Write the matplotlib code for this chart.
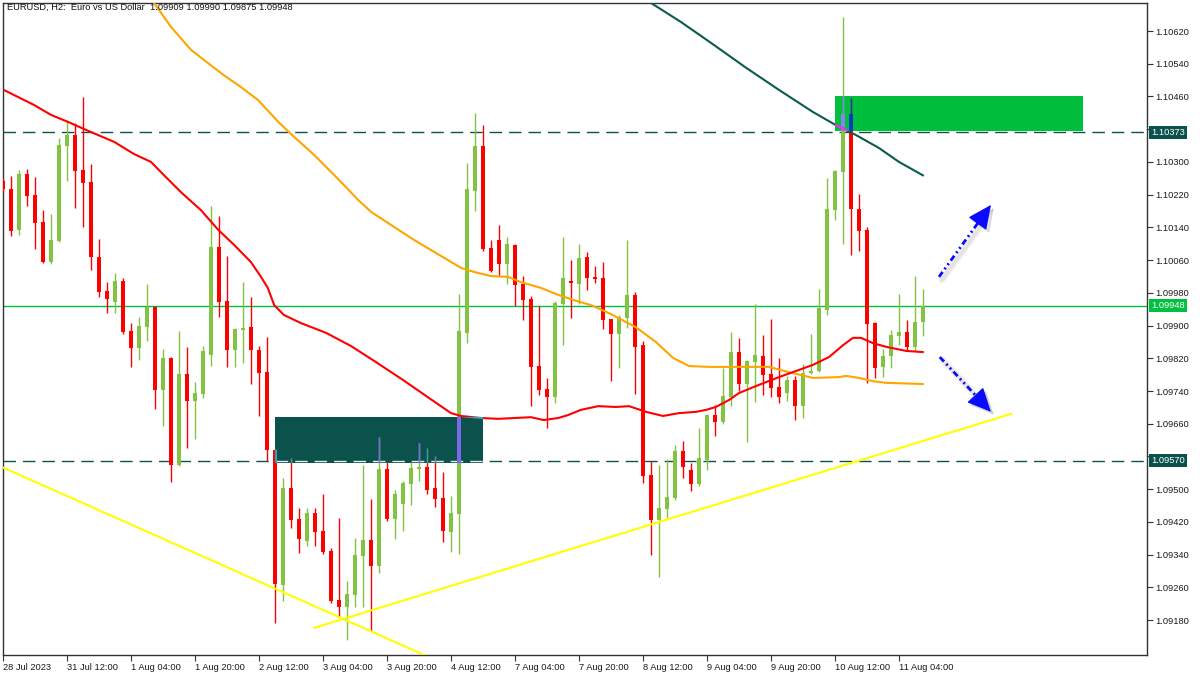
import numpy as np
import matplotlib
matplotlib.use("Agg")
import matplotlib.pyplot as plt
from matplotlib.patches import Rectangle
import matplotlib.transforms as mtransforms

plt.rcParams['font.family'] = ['Liberation Sans', 'DejaVu Sans']

# ---------------- data (EURUSD H2) ----------------
open_ = [1.10253, 1.10234, 1.10134, 1.10270, 1.10219, 1.10153, 1.10055, 1.10107, 1.10339, 1.10366,
         1.10280, 1.10251, 1.10068, 1.09984, 1.09958, 1.10009, 1.09887, 1.09845, 1.09896, 1.09945,
         1.09742, 1.09821, 1.09559, 1.09782, 1.09716, 1.09733, 1.09828, 1.10092, 1.09960, 1.09840,
         1.09889, 1.09896, 1.09840, 1.09786, 1.09596, 1.09266, 1.09503, 1.09427, 1.09373, 1.09442,
         1.09398, 1.09349, 1.09229, 1.09212, 1.09241, 1.09337, 1.09376, 1.09312, 1.09549, 1.09427,
         1.09464, 1.09513, 1.09549, 1.09554, 1.09503, 1.09478, 1.09395, 1.09439, 1.09882, 1.10229,
         1.10339, 1.10090, 1.10109, 1.10050, 1.10097, 1.10002, 1.09965, 1.09801, 1.09745, 1.09725,
         1.09953, 1.10009, 1.10002, 1.10068, 1.10019, 1.10016, 1.09916, 1.09879, 1.09918, 1.09975,
         1.09852, 1.09535, 1.09425, 1.09452, 1.09478, 1.09593, 1.09547, 1.09513, 1.09571, 1.09681,
         1.09664, 1.09725, 1.09835, 1.09757, 1.09811, 1.09826, 1.09782, 1.09750, 1.09735, 1.09767,
         1.09703, 1.09784, 1.09789, 1.09938, 1.10182, 1.10275, 1.10417, 1.10185, 1.10134, 1.09906,
         1.09799, 1.09826, 1.09874, 1.09884, 1.09848, 1.09909]
high_ = [1.10261, 1.10266, 1.10280, 1.10283, 1.10263, 1.10182, 1.10173, 1.10358, 1.10402, 1.10395,
         1.10459, 1.10295, 1.10112, 1.10006, 1.10028, 1.10016, 1.09906, 1.09921, 1.10002, 1.09947,
         1.09843, 1.09823, 1.09887, 1.09848, 1.09762, 1.09850, 1.10192, 1.10168, 1.10070, 1.09894,
         1.10006, 1.09970, 1.09850, 1.09872, 1.09598, 1.09527, 1.09576, 1.09454, 1.09454, 1.09454,
         1.09488, 1.09356, 1.09430, 1.09276, 1.09381, 1.09559, 1.09476, 1.09628, 1.09566, 1.09498,
         1.09520, 1.09566, 1.09613, 1.09601, 1.09581, 1.09542, 1.09483, 1.09977, 1.10297, 1.10420,
         1.10390, 1.10109, 1.10146, 1.10116, 1.10099, 1.10021, 1.09972, 1.09948, 1.09772, 1.09960,
         1.10116, 1.10060, 1.10099, 1.10080, 1.10046, 1.10055, 1.09916, 1.09926, 1.10109, 1.09982,
         1.09862, 1.09569, 1.09559, 1.09574, 1.09608, 1.09618, 1.09564, 1.09650, 1.09684, 1.09706,
         1.09796, 1.09884, 1.09870, 1.09816, 1.09953, 1.09877, 1.09916, 1.09821, 1.09777, 1.09777,
         1.09806, 1.09879, 1.09989, 1.10261, 1.10280, 1.10654, 1.10456, 1.10222, 1.10141, 1.09909,
         1.09843, 1.09889, 1.09977, 1.09914, 1.10021, 1.09990]
low_ = [1.10226, 1.10119, 1.10121, 1.10192, 1.10087, 1.10053, 1.10050, 1.10104, 1.10253, 1.10187,
        1.10141, 1.10036, 1.09970, 1.09931, 1.09931, 1.09879, 1.09799, 1.09816, 1.09862, 1.09696,
        1.09654, 1.09518, 1.09557, 1.09601, 1.09623, 1.09723, 1.09801, 1.09921, 1.09799, 1.09799,
        1.09808, 1.09757, 1.09679, 1.09569, 1.09173, 1.09227, 1.09405, 1.09344, 1.09361, 1.09361,
        1.09342, 1.09222, 1.09188, 1.09131, 1.09212, 1.09212, 1.09153, 1.09295, 1.09422, 1.09378,
        1.09398, 1.09461, 1.09520, 1.09488, 1.09456, 1.09371, 1.09346, 1.09342, 1.09857, 1.10180,
        1.10082, 1.10031, 1.10021, 1.10002, 1.09948, 1.09914, 1.09703, 1.09730, 1.09650, 1.09711,
        1.09852, 1.09918, 1.09953, 1.09987, 1.10004, 1.09892, 1.09764, 1.09796, 1.09894, 1.09733,
        1.09515, 1.09339, 1.09285, 1.09430, 1.09474, 1.09527, 1.09496, 1.09508, 1.09547, 1.09630,
        1.09659, 1.09703, 1.09740, 1.09615, 1.09713, 1.09730, 1.09725, 1.09711, 1.09716, 1.09669,
        1.09674, 1.09782, 1.09786, 1.09926, 1.10158, 1.10099, 1.10072, 1.10082, 1.09760, 1.09772,
        1.09774, 1.09796, 1.09852, 1.09838, 1.09838, 1.09875]
close_ = [1.10234, 1.10131, 1.10270, 1.10217, 1.10151, 1.10055, 1.10109, 1.10341, 1.10366, 1.10278,
          1.10248, 1.10068, 1.09982, 1.09965, 1.10009, 1.09884, 1.09845, 1.09899, 1.09945, 1.09742,
          1.09821, 1.09559, 1.09782, 1.09716, 1.09735, 1.09838, 1.10092, 1.09958, 1.09840, 1.09892,
          1.09894, 1.09840, 1.09784, 1.09596, 1.09268, 1.09503, 1.09425, 1.09378, 1.09442, 1.09395,
          1.09346, 1.09227, 1.09212, 1.09244, 1.09339, 1.09376, 1.09312, 1.09549, 1.09427, 1.09488,
          1.09515, 1.09552, 1.09554, 1.09498, 1.09476, 1.09398, 1.09442, 1.09887, 1.10234, 1.10339,
          1.10087, 1.10033, 1.10050, 1.10099, 1.09999, 1.09962, 1.09799, 1.09742, 1.09725, 1.09955,
          1.10016, 1.10004, 1.10065, 1.10016, 1.10014, 1.09914, 1.09879, 1.09921, 1.09975, 1.09848,
          1.09532, 1.09425, 1.09454, 1.09481, 1.09593, 1.09554, 1.09513, 1.09576, 1.09681, 1.09664,
          1.09728, 1.09835, 1.09757, 1.09813, 1.09828, 1.09779, 1.09747, 1.09725, 1.09767, 1.09703,
          1.09784, 1.09789, 1.09943, 1.10185, 1.10278, 1.10417, 1.10185, 1.10131, 1.09904, 1.09796,
          1.09826, 1.09877, 1.09884, 1.09848, 1.09909, 1.09948]

# moving averages (bar index, price)
ma_red_x = [0.1, 3.9, 6, 8.1, 11, 13.9, 16.4, 18.5, 20.1, 22.25, 24.75, 26.9, 28.9, 31, 32.25, 33.1,
            33.9, 35.1, 37.25, 40.4, 43.5, 46.6, 50, 53.1, 56, 57.25, 59.75, 61.9, 66, 67.6, 69.4,
            70.6, 72.25, 74.4, 76.6, 78.25, 80.4, 82.5, 84.5, 86.6, 87.9, 89.1, 90.75, 92, 94.1, 97,
            101.25, 103.25, 105, 106.25, 107.25, 108.75, 110.4, 112.9, 115.1]
ma_red_y = [1.10476, 1.10439, 1.10415, 1.10398, 1.10373, 1.10349, 1.10319, 1.10300, 1.10268, 1.10226,
            1.10182, 1.10134, 1.10097, 1.10055, 1.10019, 1.09992, 1.09950, 1.09926, 1.09906, 1.09882,
            1.09850, 1.09811, 1.09767, 1.09725, 1.09686, 1.09679, 1.09674, 1.09672, 1.09676, 1.09669,
            1.09674, 1.09681, 1.09694, 1.09703, 1.09701, 1.09703, 1.09689, 1.09679, 1.09686, 1.09689,
            1.09694, 1.09701, 1.09718, 1.09735, 1.09752, 1.09774, 1.09804, 1.09823, 1.09852, 1.09870,
            1.09870, 1.09857, 1.09848, 1.09838, 1.09835]
ma_orange_x = [18.5, 18.9, 21, 23.5, 25.6, 27.6, 29.75, 31.9, 34.4, 36.4, 38.9, 42.25, 44.4, 46, 48.5,
               51.4, 53.9, 57.25, 58.9, 61, 63.1, 64.75, 67.25, 69.4, 71.4, 73.5, 76, 79.1, 81.6,
               83.75, 85.75, 88.25, 95.75, 98.25, 101.25, 104.5, 105.4, 107, 108.75, 110.4, 115.1]
ma_orange_y = [1.10698, 1.10688, 1.10630, 1.10574, 1.10542, 1.10512, 1.10483, 1.10451, 1.10398,
               1.10361, 1.10317, 1.10251, 1.10207, 1.10178, 1.10146, 1.10109, 1.10080, 1.10041,
               1.10031, 1.10021, 1.10019, 1.10006, 1.09992, 1.09975, 1.09962, 1.09950, 1.09928,
               1.09896, 1.09860, 1.09821, 1.09801, 1.09799, 1.09799, 1.09786, 1.09772, 1.09774,
               1.09777, 1.09772, 1.09764, 1.09760, 1.09757]
ma_dkgreen_x = [80.4, 84.75, 88.5, 92.9, 97, 101.25, 104.1, 106.6, 109.5, 112, 115.1]
ma_dkgreen_y = [1.10696, 1.10642, 1.10591, 1.10530, 1.10476, 1.10422, 1.10390, 1.10366, 1.10334,
                1.10300, 1.10266]

# horizontal levels
level_resistance = 1.10373
level_support = 1.09570
level_last = 1.09948

# zones: (bar start, bar end, price low, price high)
zone_demand = (34, 60, 1.09564, 1.09676)
zone_supply = (104, 135, 1.10376, 1.10461)

# trend lines (bar index, price)
trend1_x, trend1_y = [0, 54], [1.09553, 1.09083]
trend2_x, trend2_y = [38.9, 126], [1.09161, 1.09684]

# projected arrows (start, tip)
arrow_up = ((117.0, 1.10019), (123.5, 1.10195))
arrow_down = ((117.1, 1.09823), (123.5, 1.09689))

xtick_pos = [0, 8, 16, 24, 32, 40, 48, 56, 64, 72, 80, 88, 96, 104, 112]
xtick_labels = ["28 Jul 2023", "31 Jul 12:00", "1 Aug 04:00", "1 Aug 20:00", "2 Aug 12:00",
                "3 Aug 04:00", "3 Aug 20:00", "4 Aug 12:00", "7 Aug 04:00", "7 Aug 20:00",
                "8 Aug 12:00", "9 Aug 04:00", "9 Aug 20:00", "10 Aug 12:00", "11 Aug 04:00"]
ytick_vals = [1.09180, 1.09260, 1.09340, 1.09420, 1.09500, 1.09580, 1.09660, 1.09740, 1.09820,
              1.09900, 1.09980, 1.10060, 1.10140, 1.10220, 1.10300, 1.10380, 1.10460, 1.10540,
              1.10620]
ytick_hidden = [1.09580, 1.10380]   # covered by the level labels
title_text = "EURUSD, H2:  Euro vs US Dollar  1.09909 1.09990 1.09875 1.09948"

# ---------------- styling ----------------
C_UP = '#82c341'
C_DN = '#ff0000'
C_TEAL = '#0b524c'
C_BOX_GREEN = '#00bf3c'
FS = 6.7

fig = plt.figure(figsize=(12, 6.75), dpi=100)
ax = fig.add_axes([3 / 1200, 1 - 655 / 675, 1144 / 1200, 652 / 675])
ax.set_xlim(0.125, 143.0)
ax.set_ylim(1.090947, 1.106885)

o = np.array(open_); h = np.array(high_); l = np.array(low_); c = np.array(close_)
x = np.arange(len(o))
up = c >= o

# zones
demand = Rectangle((zone_demand[0], zone_demand[2]), zone_demand[1] - zone_demand[0],
                   zone_demand[3] - zone_demand[2], facecolor=C_TEAL, edgecolor='none', zorder=2)
supply = Rectangle((zone_supply[0], zone_supply[2]), zone_supply[1] - zone_supply[0],
                   zone_supply[3] - zone_supply[2], facecolor=C_BOX_GREEN, edgecolor='none', zorder=2)
ax.add_patch(demand)
ax.add_patch(supply)

# levels
dash = (0, (9, 5))
ax.axhline(level_resistance, color=C_TEAL, lw=1.0, ls=dash, zorder=2.5)
ax.axhline(level_support, color=C_TEAL, lw=1.0, ls=dash, zorder=2.5)
sup_over = ax.axhline(level_support, color='#dfeeee', lw=1.0, ls=dash, zorder=2.6)
sup_over.set_clip_path(demand)
ax.axhline(level_last, color='#00c040', lw=1.0, zorder=2.5)


def draw_candles(col_up, col_dn, z, clip=None):
    cols = np.where(up, col_up, col_dn)
    lc = ax.vlines(x, l, h, colors=cols, lw=1.0, zorder=z)
    bottoms = np.minimum(o, c)
    heights = np.maximum(np.abs(c - o), 0.000004)
    bars = ax.bar(x, heights, bottom=bottoms, width=0.62, color=cols, edgecolor='none',
                  linewidth=0, zorder=z)
    if clip is not None:
        lc.set_clip_path(clip)
        for p in bars:
            p.set_clip_path(clip)


draw_candles(C_UP, C_DN, 3)
draw_candles('#7b68ee', '#19adbd', 3.2, clip=demand)
draw_candles('#8a82f2', '#0a3cc2', 3.2, clip=supply)

# moving averages
ax.plot(ma_orange_x, ma_orange_y, color='#ffa500', lw=1.5, zorder=4, solid_capstyle='butt')
ax.plot(ma_red_x, ma_red_y, color='#ff0000', lw=1.5, zorder=4, solid_capstyle='butt')
red_over = ax.plot(ma_red_x, ma_red_y, color='#19adbd', lw=1.5, zorder=4.1)[0]
red_over.set_clip_path(demand)
ax.plot(ma_dkgreen_x, ma_dkgreen_y, color='#0b5a4e', lw=1.5, zorder=4, solid_capstyle='butt')
dk_over = ax.plot(ma_dkgreen_x, ma_dkgreen_y, color='#ff30ff', lw=1.5, zorder=4.1)[0]
dk_over.set_clip_path(supply)

# trend lines
ax.plot(trend1_x, trend1_y, color='#ffff00', lw=1.5, zorder=4.2)
ax.plot(trend2_x, trend2_y, color='#ffff00', lw=1.5, zorder=4.2)

# arrows
shadow_tr = mtransforms.offset_copy(ax.transData, fig=fig, x=3, y=-3, units='dots')
for (s, t) in (arrow_up, arrow_down):
    s = np.array(s); t = np.array(t)
    base = t - 0.17 * (t - s)
    for lw_s, a_s in ((5.0, 0.08), (3.0, 0.12)):
        ax.plot([s[0], base[0]], [s[1], base[1]], color='#777777', alpha=a_s, lw=lw_s,
                transform=shadow_tr, zorder=4.3, solid_capstyle='round')
    ax.annotate('', xy=t, xytext=base, xycoords=shadow_tr, textcoords=shadow_tr,
                arrowprops=dict(arrowstyle='-|>,head_length=0.75,head_width=0.35',
                                color='#777777', alpha=0.2, lw=1, mutation_scale=20,
                                shrinkA=0, shrinkB=0), zorder=4.3)
    ax.plot([s[0], base[0]], [s[1], base[1]], color='#0a0aff', lw=2.0,
            ls=(0, (2.2, 1.2, 0.7, 1.2, 0.7, 1.2)), zorder=4.5)
    ax.annotate('', xy=t, xytext=base,
                arrowprops=dict(arrowstyle='-|>,head_length=0.75,head_width=0.35',
                                color='#0a0aff', lw=1, mutation_scale=20,
                                shrinkA=0, shrinkB=0), zorder=4.6)

# axes styling
for sp in ax.spines.values():
    sp.set_color('#333333')
    sp.set_linewidth(1.0)
ax.yaxis.tick_right()
ax.set_yticks(ytick_vals, ["" if v in ytick_hidden else f"{v:.5f}" for v in ytick_vals])
ax.set_xticks(xtick_pos, xtick_labels)
ax.tick_params(axis='y', direction='out', length=4, width=0.8, pad=2, labelsize=FS,
               colors='#333333', labelcolor='#1a1a1a')
ax.tick_params(axis='x', direction='out', length=4, width=0.8, pad=2, labelsize=FS,
               colors='#333333', labelcolor='#1a1a1a')
for lab in ax.get_xticklabels():
    lab.set_horizontalalignment('left')

# price labels on the axis
btr = mtransforms.blended_transform_factory(ax.transAxes, ax.transData)
for val, bg in ((level_resistance, C_TEAL), (level_support, C_TEAL), (level_last, '#00c040')):
    ax.text(1.0035, val, f"{val:.5f}", transform=btr, ha='left', va='center', fontsize=FS,
            color='white', clip_on=False, zorder=10,
            bbox=dict(boxstyle='square,pad=0.22', facecolor=bg, edgecolor='none'))

fig.text(7 / 1200, 1 - 3 / 675, title_text, ha='left', va='top', fontsize=FS, color='#111111')

fig.savefig('out.png', dpi=100)
